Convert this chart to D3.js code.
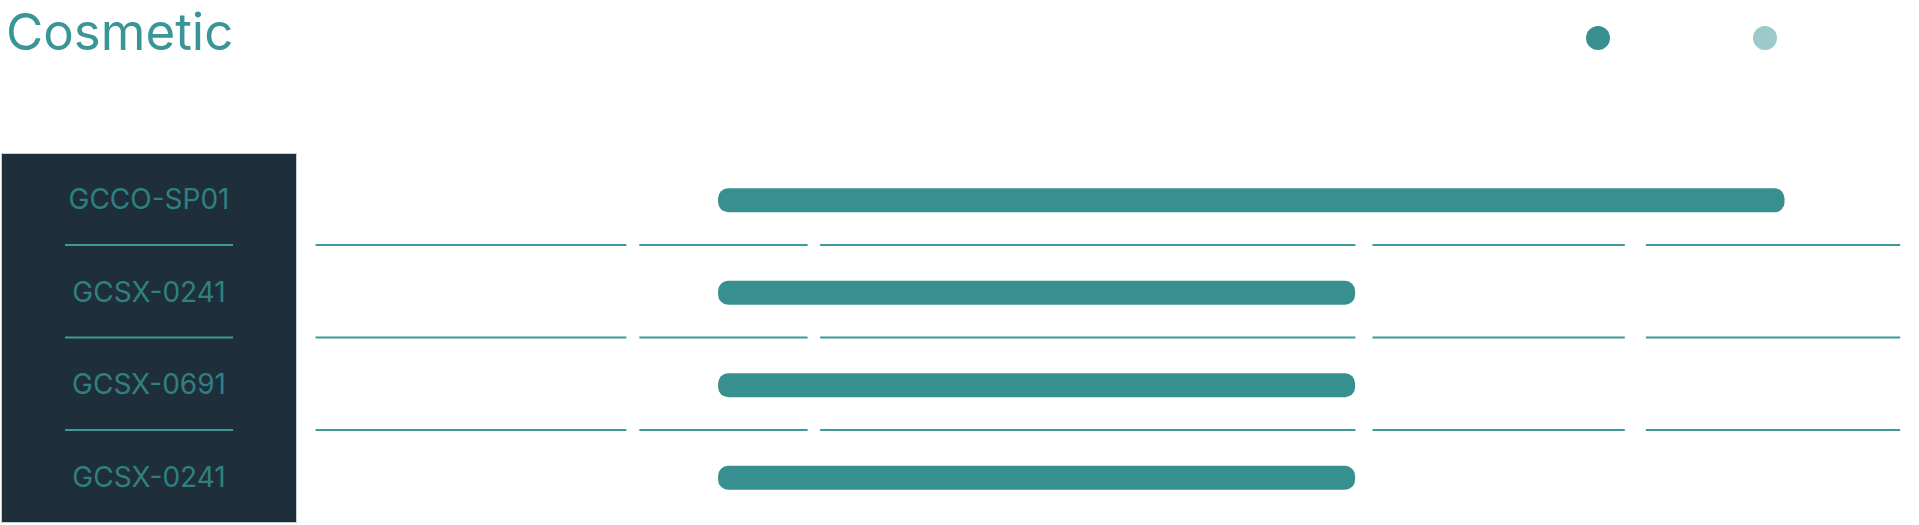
<!DOCTYPE html>
<html>
<head>
<meta charset="utf-8">
<script src="https://cdn.jsdelivr.net/npm/d3@7"></script>
<style>
  html, body { margin: 0; padding: 0; background: #ffffff; }
  svg { display: block; }
</style>
</head>
<body>
<svg id="chart" width="1919" height="525"></svg>
<script>
// ---- data ----
const title = "Cosmetic";
const categories = ["GCCO-SP01", "GCSX-0241", "GCSX-0691", "GCSX-0241"];
const barStart = [25.4, 25.4, 25.4, 25.4];
const barEnd = [92.7, 65.6, 65.6, 65.6];
// grid column segments (start, end) along the value axis
const segStart = [0, 20.43, 31.84, 66.70, 83.95];
const segEnd = [19.61, 31.05, 65.62, 82.62, 100];
const legendKeys = ["Series A", "Series B"];
const legendColors = ["#37908f", "#9ccaca"];

// ---- layout ----
const svg = d3.select("#chart");
const teal = "#37908f";

const y = d3.scaleBand().domain(d3.range(categories.length)).range([153, 523]).padding(0);
const x = d3.scaleLinear().domain([0, 100]).range([315.6, 1900.2]);
const legendX = d3.scalePoint().domain(legendKeys).range([1598, 1765]);

// title
svg.append("text")
  .attr("x", 6).attr("y", 49.5)
  .attr("font-family", "Inter, 'Noto Sans', sans-serif")
  .attr("font-size", 51)
  .attr("fill", "#3a9696")
  .text(title);

// legend dots
svg.selectAll("circle.legend").data(legendKeys).join("circle")
  .attr("class", "legend")
  .attr("cx", d => legendX(d)).attr("cy", 38).attr("r", 12)
  .attr("fill", (d, i) => legendColors[i]);

// left panel
svg.append("rect")
  .attr("x", 1.5).attr("y", 153.5)
  .attr("width", 295).attr("height", 369)
  .attr("fill", "#1e2f3b")
  .attr("stroke", "#c9cdd1").attr("stroke-width", 1);

// separators inside panel and across the chart
const seps = d3.range(1, categories.length);
svg.selectAll("line.psep").data(seps).join("line")
  .attr("class", "psep")
  .attr("x1", 65).attr("x2", 233)
  .attr("y1", d => y(d) - 0.5).attr("y2", d => y(d) - 0.5)
  .attr("stroke", "#3c9a9a").attr("stroke-width", 2);

const segs = d3.range(segStart.length);
seps.forEach(s => {
  svg.selectAll("line.gsep" + s).data(segs).join("line")
    .attr("class", "gsep" + s)
    .attr("x1", d => x(segStart[d])).attr("x2", d => x(segEnd[d]))
    .attr("y1", y(s) - 0.5).attr("y2", y(s) - 0.5)
    .attr("stroke", "#3c9a9a").attr("stroke-width", 2);
});

// category labels
svg.selectAll("text.cat").data(categories).join("text")
  .attr("class", "cat")
  .attr("x", 149)
  .attr("y", (d, i) => y(i) + y.bandwidth() / 2 + 10)
  .attr("text-anchor", "middle")
  .attr("font-family", "Inter, 'Noto Sans', sans-serif")
  .attr("font-size", 28)
  .attr("fill", "#2f8080")
  .text(d => d);

// bars
const barH = 24;
svg.selectAll("rect.bar").data(categories).join("rect")
  .attr("class", "bar")
  .attr("x", (d, i) => x(barStart[i]))
  .attr("width", (d, i) => x(barEnd[i]) - x(barStart[i]))
  .attr("y", (d, i) => y(i) + y.bandwidth() / 2 - barH / 2 + 1)
  .attr("height", barH)
  .attr("rx", 10).attr("ry", 10)
  .attr("fill", teal);
</script>
</body>
</html>
